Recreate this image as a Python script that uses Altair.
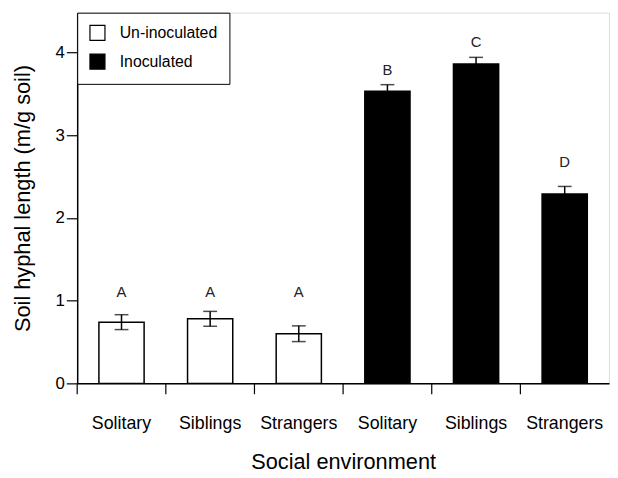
import altair as alt
import pandas as pd

social = ["Solitary", "Siblings", "Strangers", "Solitary", "Siblings", "Strangers"]
treatment = ["Un-inoculated"] * 3 + ["Inoculated"] * 3
means = [0.74, 0.78, 0.60, 3.53, 3.86, 2.29]
sems = [0.09, 0.09, 0.095, 0.08, 0.08, 0.09]
letters = ["A", "A", "A", "B", "C", "D"]
letter_y = [1.10, 1.10, 1.10, 3.79, 4.12, 2.67]
y_ticks = [0, 1, 2, 3, 4]

keys = [f"{t}|{s}" for t, s in zip(treatment, social)]
df = pd.DataFrame({
    "key": keys,
    "social": social,
    "treatment": treatment,
    "mean": means,
    "low": [m - e for m, e in zip(means, sems)],
    "high": [m + e for m, e in zip(means, sems)],
    "letter": letters,
    "ly": letter_y,
})

FONT = "Liberation Sans"

x_enc = alt.X(
    "key:N", sort=keys,
    scale=alt.Scale(paddingInner=0, paddingOuter=0),
    axis=alt.Axis(
        title="Social environment",
        labelExpr="split(datum.label, '|')[1]",
        labelAngle=0, ticks=False, tickSize=0, labelPadding=32,
        labelFontSize=18, titleFontSize=22, titleFontWeight="normal",
        titlePadding=19, labelColor="black", titleColor="black",
        domainColor="black", domainWidth=1.5, grid=False,
        labelFont=FONT, titleFont=FONT,
    ),
)
y_scale = alt.Scale(domain=[0, 4.48], nice=False, zero=True)

bars = alt.Chart(df).mark_bar(
    width=alt.RelativeBandSize(0.51), stroke="black", strokeWidth=1.5
).encode(
    x=x_enc,
    y=alt.Y(
        "mean:Q", scale=y_scale,
        axis=alt.Axis(
            title="Soil hyphal length (m/g soil)", values=y_ticks, format="d",
            tickSize=11, tickColor="black", tickWidth=1.2,
            labelPadding=2, labelFontSize=17, titleFontSize=22,
            titleFontWeight="normal", titlePadding=21,
            labelColor="black", titleColor="black",
            domainColor="black", domainWidth=1.5, grid=False,
            labelFont=FONT, titleFont=FONT,
        ),
    ),
    fill=alt.Fill(
        "treatment:N",
        scale=alt.Scale(domain=["Un-inoculated", "Inoculated"], range=["white", "black"]),
        legend=alt.Legend(
            title=None, orient="top-left", offset=0, padding=12,
            symbolType="square", symbolSize=230, symbolStrokeColor="black",
            symbolStrokeWidth=1.2, labelFontSize=16, labelOffset=14,
            rowPadding=8, strokeColor="black", fillColor="white",
            labelFont=FONT, labelColor="black",
        ),
    ),
)

err = alt.Chart(df).mark_errorbar(
    ticks=alt.MarkConfig(size=14), color="black", thickness=1.5
).encode(
    x=alt.X("key:N", sort=keys),
    y=alt.Y("low:Q", scale=y_scale, title=""),
    y2="high:Q",
)

txt = alt.Chart(df).mark_text(
    fontSize=15, font=FONT, color="#222222", baseline="middle"
).encode(
    x=alt.X("key:N", sort=keys),
    y=alt.Y("ly:Q", scale=y_scale),
    text="letter:N",
)

xticks = alt.Chart(df).mark_rule(color="black", strokeWidth=1.2).encode(
    x=alt.X("key:N", sort=keys, bandPosition=0),
    y=alt.value(375),
    y2=alt.value(386),
)

chart = alt.layer(bars, err, txt, xticks).properties(
    width=538, height=375,
    autosize=alt.AutoSizeParams(type="none"),
    padding={"left": 70, "top": 2, "right": 1, "bottom": 93},
).configure_view(
    stroke="black", strokeWidth=1.5
).configure(
    background="white"
)

chart.save("out.html", embed_options={"renderer": "svg", "actions": False})
